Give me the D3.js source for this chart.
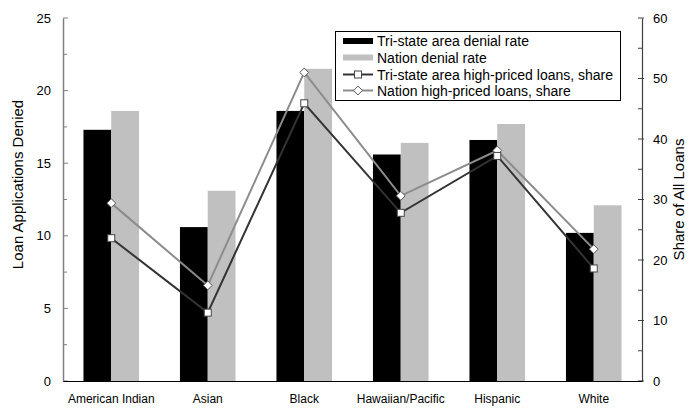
<!DOCTYPE html>
<html><head><meta charset="utf-8">
<script src="https://cdn.jsdelivr.net/npm/d3@7"></script>
<style>body{margin:0;background:#fff}svg{display:block;font-family:Arial,"Liberation Sans",sans-serif}</style>
</head><body>
<svg id="c" width="700" height="410"></svg>
<script>
const categories = ["American Indian","Asian","Black","Hawaiian/Pacific","Hispanic","White"];
const triStateDenial = [17.3, 10.6, 18.6, 15.6, 16.6, 10.2];
const nationDenial = [18.6, 13.1, 21.5, 16.4, 17.7, 12.1];
const triStateShare = [23.6, 11.3, 45.9, 27.8, 37.2, 18.6];
const nationShare = [29.4, 15.8, 51.0, 30.6, 38.1, 21.8];
const leftTicks = [0,5,10,15,20,25];
const rightTicks = [0,10,20,30,40,50,60];
const legendLabels = ["Tri-state area denial rate","Nation denial rate","Tri-state area high-priced loans, share","Nation high-priced loans, share"];

const svg = d3.select("#c");
const L = 63, R = 642, T = 18, B = 381;
const x = d3.scaleBand().domain(categories).range([L, R]).padding(0);
const yL = d3.scaleLinear().domain([0,25]).range([B, T]);
const yR = d3.scaleLinear().domain([0,60]).range([B, T]);
const bw = x.bandwidth() * 0.288;
const cx = c => x(c) + x.bandwidth()/2;

// bars
svg.append("g").selectAll("rect").data(categories).join("rect")
  .attr("x", c => cx(c) - bw).attr("width", bw)
  .attr("y", (c,i) => yL(triStateDenial[i])).attr("height", (c,i) => B - yL(triStateDenial[i]))
  .attr("fill", "#000");
svg.append("g").selectAll("rect").data(categories).join("rect")
  .attr("x", c => cx(c)).attr("width", bw)
  .attr("y", (c,i) => yL(nationDenial[i])).attr("height", (c,i) => B - yL(nationDenial[i]))
  .attr("fill", "#c0c0c0");

// left axis
const gl = svg.append("g").attr("transform", `translate(${L},0)`);
gl.call(d3.axisLeft(yL).tickValues(d3.range(0,25.01,2.5)).tickSize(0).tickFormat(""));
gl.select(".domain").attr("stroke", "#808080").attr("stroke-width", 1.5);
gl.selectAll(".tick").remove();
gl.selectAll(".tk").data(d3.range(0,25.01,2.5)).join("line").attr("class","tk")
  .attr("x1", 0).attr("x2", d => d % 5 === 0 ? 5 : 4)
  .attr("y1", d => yL(d)).attr("y2", d => yL(d)).attr("stroke", "#808080");
gl.selectAll(".lbl").data(leftTicks).join("text").attr("class","lbl")
  .attr("x", -12).attr("y", d => yL(d)).attr("dy", "0.36em").attr("fill", "#000")
  .attr("font-family", "Arial, 'Liberation Sans', sans-serif")
  .attr("text-anchor", "end").attr("font-size", 13).text(d => d);

// right axis
const gr = svg.append("g").attr("transform", `translate(${R},0)`);
gr.call(d3.axisRight(yR).tickValues(d3.range(0,60.01,5)).tickSize(0).tickFormat(""));
gr.select(".domain").attr("stroke", "#404040").attr("stroke-width", 1.2);
gr.selectAll(".tick").remove();
gr.selectAll(".tk").data(d3.range(0,60.01,5)).join("line").attr("class","tk")
  .attr("x1", -4).attr("x2", d => d % 10 === 0 ? 2 : 0)
  .attr("y1", d => yR(d)).attr("y2", d => yR(d)).attr("stroke", "#404040");
gr.selectAll(".lbl").data(rightTicks).join("text").attr("class","lbl")
  .attr("x", 11).attr("y", d => yR(d)).attr("dy", "0.36em").attr("fill", "#000")
  .attr("font-family", "Arial, 'Liberation Sans', sans-serif")
  .attr("text-anchor", "start").attr("font-size", 13).text(d => d);

// bottom axis
const gb = svg.append("g").attr("transform", `translate(0,${B})`);
gb.call(d3.axisBottom(x).tickSize(0).tickPadding(13));
gb.select(".domain").attr("stroke", "#000").attr("stroke-width", 1.2);
gb.selectAll("text").attr("font-size", 12).attr("font-family", "Arial, 'Liberation Sans', sans-serif").attr("fill", "#000");

// axis titles
svg.append("text").attr("transform", `translate(23,${(T+B)/2 - 15}) rotate(-90)`)
  .attr("text-anchor", "middle").attr("font-size", 15).attr("fill", "#000").text("Loan Applications Denied");
svg.append("text").attr("transform", `translate(684,${(T+B)/2}) rotate(-90)`)
  .attr("text-anchor", "middle").attr("font-size", 15).attr("fill", "#000").text("Share of All Loans");

// lines
const line = d3.line().x(d => cx(d.c)).y(d => yR(d.v));
const triPts = categories.map((c,i) => ({c, v: triStateShare[i]}));
const natPts = categories.map((c,i) => ({c, v: nationShare[i]}));
svg.append("path").datum(natPts).attr("d", line).attr("fill","none").attr("stroke","#8c8c8c").attr("stroke-width",2);
svg.append("path").datum(triPts).attr("d", line).attr("fill","none").attr("stroke","#333").attr("stroke-width",2);
const diamond = d3.symbol().type(d3.symbolDiamond2).size(50);
svg.append("g").selectAll("path").data(natPts).join("path")
  .attr("transform", d => `translate(${cx(d.c)},${yR(d.v)})`).attr("d", diamond)
  .attr("fill","#fff").attr("stroke","#555").attr("stroke-width",1);
svg.append("g").selectAll("rect").data(triPts).join("rect")
  .attr("x", d => cx(d.c)-3.5).attr("y", d => yR(d.v)-3.5).attr("width",7).attr("height",7)
  .attr("fill","#fff").attr("stroke","#444").attr("stroke-width",1);

// legend
const lg = svg.append("g");
lg.append("rect").attr("x",335.5).attr("y",31.5).attr("width",285).attr("height",69)
  .attr("fill","#fff").attr("stroke","#000").attr("stroke-width",1);
const rowY = [41, 57.5, 74.5, 90.5];
lg.append("rect").attr("x",343).attr("y",rowY[0]-3).attr("width",30).attr("height",6).attr("fill","#000");
lg.append("rect").attr("x",343).attr("y",rowY[1]-3).attr("width",30).attr("height",6).attr("fill","#c0c0c0");
lg.append("line").attr("x1",343).attr("x2",373).attr("y1",rowY[2]).attr("y2",rowY[2]).attr("stroke","#333").attr("stroke-width",2);
lg.append("rect").attr("x",354.5).attr("y",rowY[2]-3.5).attr("width",7).attr("height",7).attr("fill","#fff").attr("stroke","#444");
lg.append("line").attr("x1",343).attr("x2",373).attr("y1",rowY[3]).attr("y2",rowY[3]).attr("stroke","#8c8c8c").attr("stroke-width",2);
lg.append("path").attr("transform",`translate(358,${rowY[3]})`).attr("d",diamond).attr("fill","#fff").attr("stroke","#555");
lg.selectAll("text").data(legendLabels).join("text")
  .attr("x",377).attr("y",(d,i)=>rowY[i]).attr("dy","0.36em").attr("font-size",14).attr("fill","#000").text(d=>d);
</script>
</body></html>
